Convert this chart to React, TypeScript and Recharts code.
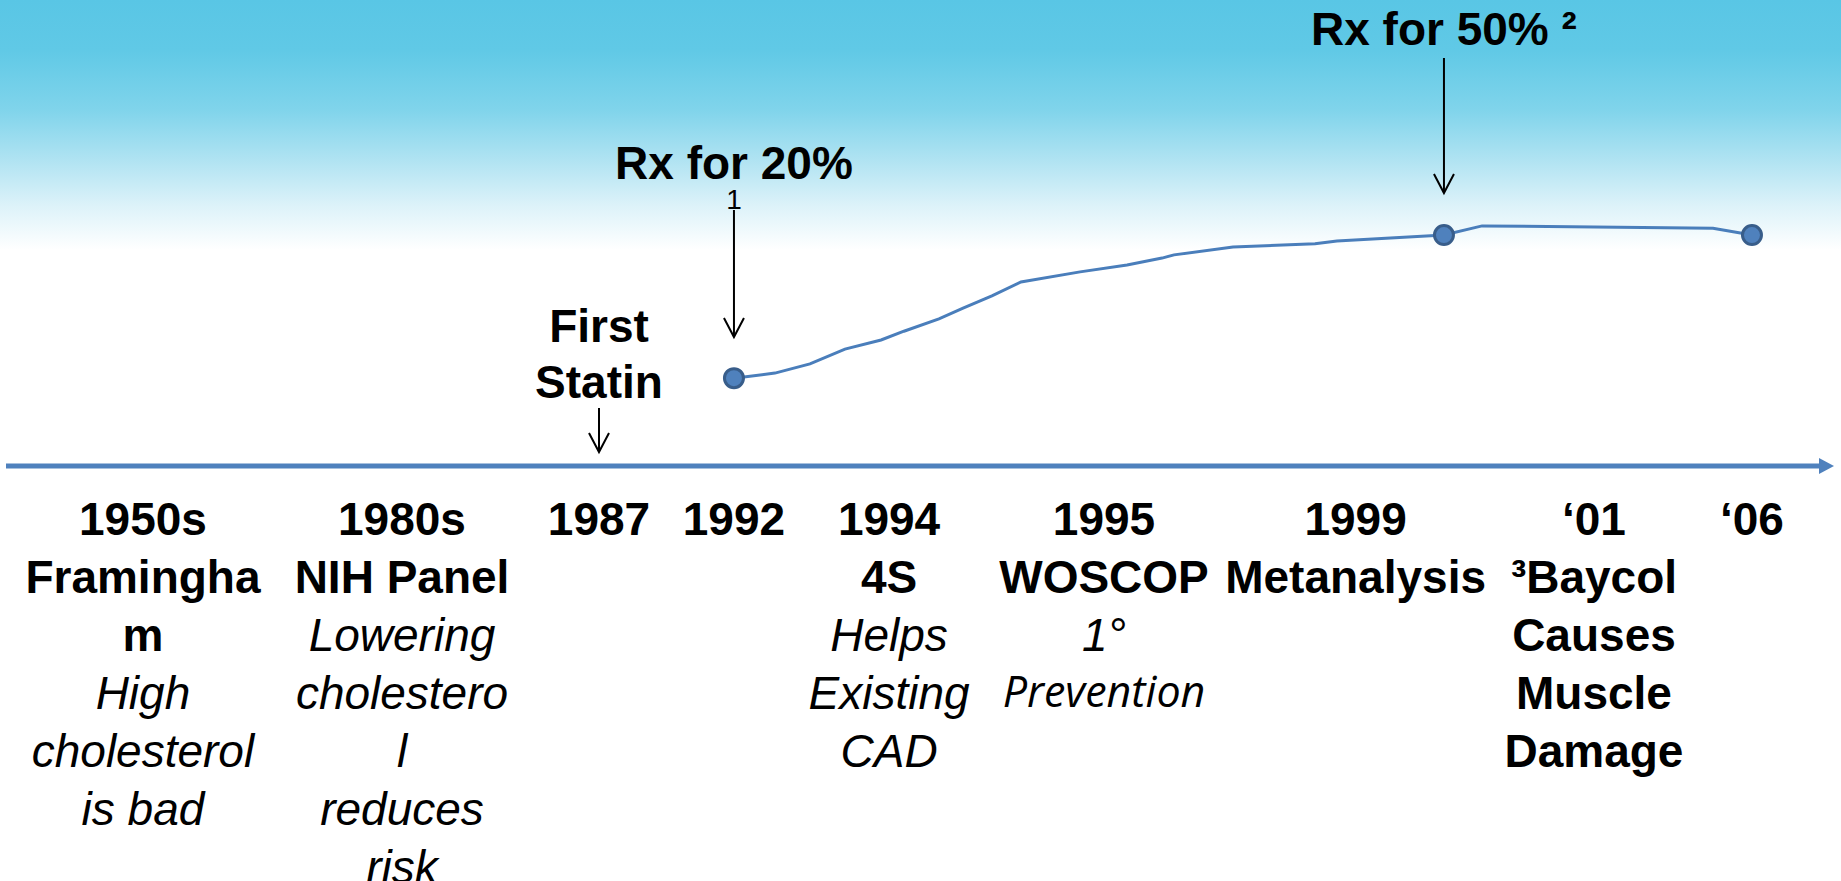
import React from 'react';
import { LineChart, Line, XAxis, YAxis, ReferenceLine } from 'recharts';

// position along the timeline arrow (0-100) and share of eligible patients on statins (%)
const curvePos = [40.13, 42.39, 44.32, 46.25, 48.24, 49.5, 51.43, 52.76, 54.35, 55.95, 59.21, 61.8, 63.73, 64.39, 67.64, 72.16, 73.37, 79.27, 81.37, 94.1, 96.25];
const curvePct = [19.1, 20.2, 22.2, 25.4, 27.4, 29.3, 32.0, 34.3, 37.0, 40.0, 42.2, 43.7, 45.2, 45.9, 47.6, 48.3, 48.9, 50.2, 52.2, 51.7, 50.2];
const milestoneIdx = [0, 17, 20];

// timeline milestones
const tickPos = [7.55, 21.83, 32.69, 40.13, 48.68, 60.53, 74.4, 87.54, 96.25];
const tickYears = ['1950s', '1980s', '1987', '1992', '1994', '1995', '1999', '\u201801', '\u201806'];
const tickTitles = [['Framingha', 'm'], ['NIH Panel'], [], [], ['4S'], ['WOSCOP'], ['Metanalysis'], ['\u00b3Baycol', 'Causes', 'Muscle', 'Damage'], []];
const tickNotes = [['High', 'cholesterol', 'is bad'], ['Lowering', 'cholestero', 'l', 'reduces', 'risk'], [], [], ['Helps', 'Existing', 'CAD'], ['1\u00b0', 'Prevention'], [], [], []];
const altFontNotes = ['Prevention'];

// callout arrows: x position, arrow from / to (in %)
const calloutPos = [40.13, 79.27, 32.69];
const calloutFrom = [55.65, 88.7, 12.61];
const calloutTo = [28.04, 59.35, 3.04];

const data = curvePos.map((pos, i) => ({ pos, pct: curvePct[i] }));

const FONT = '"Liberation Sans", Arial, sans-serif';
const BLUE = '#4F81BD';

function TimelineTick(props: any) {
  const { x, y, payload } = props;
  const i = tickPos.indexOf(payload.value);
  if (i < 0) return <g />;
  const rows = [
    { t: tickYears[i], bold: true, alt: false },
    ...tickTitles[i].map((t) => ({ t, bold: true, alt: false })),
    ...tickNotes[i].map((t) => ({ t, bold: false, alt: altFontNotes.includes(t) })),
  ];
  return (
    <g>
      {rows.map((r, k) => (
        <text
          key={k}
          x={x}
          y={y + 69 + k * 58 - (r.alt ? 2 : 0)}
          textAnchor="middle"
          fill="#000"
          fontFamily={r.alt ? '"Open Sans", sans-serif' : FONT}
          fontSize={r.alt ? 43 : 46}
          fontWeight={r.bold ? 700 : 400}
          fontStyle={r.bold ? 'normal' : 'italic'}
        >
          {r.t}
        </text>
      ))}
    </g>
  );
}

function arrowDown(x: number, y1: number, y2: number) {
  return (
    <g>
      <line x1={x} y1={y1} x2={x} y2={y2} stroke="#000" strokeWidth={2} />
      <path d={`M${x - 10},${y2 - 19} L${x},${y2} L${x + 10},${y2 - 19}`} fill="none" stroke="#000" strokeWidth={2} />
    </g>
  );
}

const Rx20 = (p: any) => (
  <g>
    <text x={p.x1} y={p.y1 - 31} textAnchor="middle" fontFamily={FONT} fontSize={46} fontWeight={700}>Rx for 20%</text>
    <text x={p.x1} y={p.y1 - 1} textAnchor="middle" fontFamily={FONT} fontSize={28}>1</text>
    {arrowDown(p.x1, p.y1, p.y2)}
  </g>
);

const Rx50 = (p: any) => (
  <g>
    <text x={p.x1} y={p.y1 - 13} textAnchor="middle" fontFamily={FONT} fontSize={46} fontWeight={700}>Rx for 50% {'\u00b2'}</text>
    {arrowDown(p.x1, p.y1, p.y2)}
  </g>
);

const FirstStatin = (p: any) => (
  <g>
    <text x={p.x1} y={p.y1 - 66} textAnchor="middle" fontFamily={FONT} fontSize={46} fontWeight={700}>First</text>
    <text x={p.x1} y={p.y1 - 10} textAnchor="middle" fontFamily={FONT} fontSize={46} fontWeight={700}>Statin</text>
    {arrowDown(p.x1, p.y1, p.y2)}
  </g>
);

const callouts = [Rx20, Rx50, FirstStatin];

const TimeArrow = (p: any) => (
  <g>
    <line x1={p.x1} y1={p.y1} x2={p.x2} y2={p.y2} stroke={BLUE} strokeWidth={5} />
    <path d={`M${p.x2 - 1},${p.y2 - 8} L${p.x2 + 14},${p.y2} L${p.x2 - 1},${p.y2 + 8} Z`} fill={BLUE} />
  </g>
);

const MilestoneDot = (p: any) => {
  if (!milestoneIdx.includes(p.index)) return <g key={p.index} />;
  return <circle key={p.index} cx={p.cx} cy={p.cy} r={9.5} fill={BLUE} stroke="#385D8A" strokeWidth={3} />;
};

export default function App() {
  return (
    <div
      style={{
        position: 'absolute',
        top: 0,
        left: 0,
        width: 1841,
        height: 881,
        overflow: 'hidden',
        background:
          'linear-gradient(to bottom, #59C6E5 0px, #60C9E6 50px, #80D4EB 110px, #B0E3F2 160px, #DCF2F9 205px, #FFFFFF 250px, #FFFFFF 100%)',
      }}
    >
      <LineChart width={1841} height={881} data={data} margin={{ top: 6, right: 21, left: 6, bottom: 0 }}>
        <XAxis
          dataKey="pos"
          type="number"
          domain={[0, 100]}
          ticks={tickPos}
          interval={0}
          axisLine={false}
          tickLine={false}
          tickSize={0}
          tickMargin={0}
          height={415}
          tick={<TimelineTick />}
        />
        <YAxis type="number" domain={[0, 100]} hide />
        <ReferenceLine y={0} shape={<TimeArrow />} />
        {calloutPos.map((x, i) => {
          const Shape = callouts[i];
          return (
            <ReferenceLine
              key={i}
              segment={[{ x, y: calloutFrom[i] }, { x, y: calloutTo[i] }]}
              shape={<Shape />}
            />
          );
        })}
        <Line
          type="linear"
          dataKey="pct"
          stroke="#4A7EBB"
          strokeWidth={3}
          dot={<MilestoneDot />}
          activeDot={false}
          isAnimationActive={false}
        />
      </LineChart>
    </div>
  );
}
